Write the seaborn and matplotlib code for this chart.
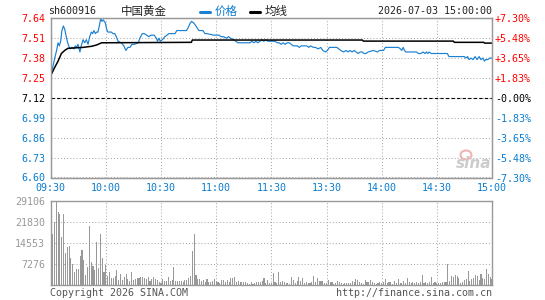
import seaborn as sns
import matplotlib
matplotlib.use('Agg')
import matplotlib.pyplot as plt
from matplotlib.lines import Line2D
from matplotlib.patches import Ellipse

# ---- data ----
code = 'sh600916'
name = '中国黄金'
stamp = '2026-07-03 15:00:00'
prev_close = 7.12

price_ticks = [6.60, 6.73, 6.86, 6.99, 7.12, 7.25, 7.38, 7.51, 7.64]
pct_labels = ['-7.30%', '-5.48%', '-3.65%', '-1.83%', '-0.00%',
              '+1.83%', '+3.65%', '+5.48%', '+7.30%']
time_pos = [0, 30, 60, 90, 120, 150, 180, 210, 240]
time_labels = ['09:30', '10:00', '10:30', '11:00', '11:30',
               '13:30', '14:00', '14:30', '15:00']
vol_ticks = [7276, 14553, 21830, 29106]

# minutes since 09:30 (11:30 and 13:00 share minute 120)
am_t = [0, 1.1, 2.2, 3.2, 4.0, 4.7, 5.4, 6.1, 6.9, 7.6, 8.3, 9.0, 9.8, 10.5,
        11.6, 12.7, 13.4, 14.1, 14.8, 15.9, 16.6, 17.6, 18.5, 19.4, 20.3,
        21.2, 22.1, 22.8, 23.5, 24.3, 25.0, 25.7, 26.6, 27.2, 27.9, 28.6,
        29.7, 30.4, 31.1, 33.0, 33.9, 34.8, 35.7, 36.6, 38.4, 39.8, 40.9,
        42.0, 43.1, 44.2, 45.6, 47.6, 48.5, 49.8, 50.9, 52.2, 53.4, 54.5,
        56.3, 57.4, 58.1, 58.9, 59.6, 60.7, 62.1, 63.2, 64.3, 65.4, 66.5,
        67.6, 68.6, 73.9, 74.8, 75.9, 76.6, 77.7, 78.4, 79.5, 80.6, 82.8,
        83.9, 85.0, 88.6, 91.5, 92.6, 94.0, 95.6, 96.7, 97.8, 99.6, 100.7,
        101.8, 108.5, 109.4, 110.5, 111.6, 112.7, 113.8, 114.8, 115.9,
        117.0, 118.1, 119.4, 120.0]
am_price = [7.27, 7.32, 7.38, 7.43, 7.48, 7.46, 7.49, 7.56, 7.59, 7.57, 7.53,
            7.49, 7.46, 7.44, 7.45, 7.44, 7.46, 7.45, 7.47, 7.42, 7.46, 7.50,
            7.48, 7.50, 7.47, 7.52, 7.55, 7.54, 7.56, 7.54, 7.55, 7.55, 7.60,
            7.64, 7.62, 7.63, 7.61, 7.57, 7.55, 7.55, 7.54, 7.54, 7.52, 7.49,
            7.48, 7.46, 7.43, 7.45, 7.45, 7.47, 7.47, 7.48, 7.51, 7.54, 7.54,
            7.53, 7.52, 7.53, 7.53, 7.51, 7.49, 7.51, 7.49, 7.50, 7.52, 7.53,
            7.54, 7.54, 7.54, 7.54, 7.56, 7.56, 7.58, 7.61, 7.62, 7.61, 7.60,
            7.58, 7.56, 7.56, 7.54, 7.54, 7.53, 7.53, 7.52, 7.52, 7.51, 7.52,
            7.51, 7.50, 7.49, 7.48, 7.48, 7.49, 7.48, 7.49, 7.48, 7.49, 7.50,
            7.49, 7.50, 7.49, 7.49, 7.49]

pm_t = [122.1, 123.2, 124.3, 125.3, 126.4, 127.5, 128.6, 129.7, 130.8, 131.9,
        134.1, 135.2, 136.3, 139.2, 140.4, 141.3, 142.9, 144.0, 145.5, 146.9,
        148.0, 149.4, 150.5, 151.6, 152.7, 154.2, 155.6, 156.7, 157.8, 159.2,
        160.7, 161.8, 162.8, 163.9, 165.0, 166.1, 167.2, 168.3, 169.4, 170.4,
        171.5, 172.6, 175.5, 177.7, 178.8, 179.9, 181.0, 182.0, 185.7, 187.7,
        189.1, 190.2, 190.9, 191.7, 192.4, 193.1, 195.6, 196.7, 197.8, 198.9,
        200.0, 201.4, 202.5, 203.6, 204.3, 205.1, 205.8, 206.9, 208.0, 209.1,
        210.1, 211.2, 214.5, 215.7, 216.6, 225.0, 225.7, 226.8, 227.5, 228.6,
        229.7, 230.8, 231.9, 233.0, 234.0, 235.1, 235.9, 236.6, 237.7, 238.7,
        240.0]
pm_price = [7.49, 7.48, 7.48, 7.47, 7.48, 7.47, 7.48, 7.48, 7.47, 7.46,
            7.46, 7.45, 7.46, 7.46, 7.45, 7.46, 7.45, 7.45, 7.44, 7.45,
            7.43, 7.42, 7.43, 7.45, 7.45, 7.45, 7.45, 7.44, 7.43, 7.42,
            7.43, 7.42, 7.43, 7.42, 7.43, 7.42, 7.41, 7.42, 7.42, 7.41,
            7.41, 7.42, 7.43, 7.42, 7.43, 7.43, 7.43, 7.45, 7.45, 7.45,
            7.45, 7.44, 7.43, 7.45, 7.43, 7.42, 7.42, 7.42, 7.42, 7.42,
            7.41, 7.41, 7.42, 7.41, 7.42, 7.41, 7.42, 7.41, 7.41, 7.41,
            7.41, 7.41, 7.41, 7.41, 7.39, 7.39, 7.38, 7.39, 7.37, 7.38,
            7.37, 7.39, 7.37, 7.39, 7.37, 7.38, 7.36, 7.37, 7.37, 7.38,
            7.38]

avg_t = [0, 2.2, 4.0, 5.8, 7.6, 9.4, 17.6, 22.1, 24.8, 27.7, 76.5, 77.0,
         169.5, 170.0, 219.0, 219.5, 235.5, 236.0, 240.0]
avg_price = [7.265, 7.32, 7.36, 7.41, 7.43, 7.444, 7.45, 7.457, 7.465, 7.48,
             7.483, 7.498, 7.498, 7.491, 7.491, 7.483, 7.483, 7.478, 7.478]

volume = [8520, 17780, 21930, 29106, 25400, 24800, 16740, 24800, 11190, 13270,
          13620, 9460, 7380, 4610, 5650, 5650, 10150, 12230, 8770, 3570,
          6340, 20550, 8070, 6690, 5300, 15000, 5990, 17780, 9460, 4610,
          7030, 3220, 4610, 2530, 2530, 3220, 5300, 1840, 3920, 1840,
          2880, 3920, 2180, 1490, 4610, 1840, 2180, 2530, 2530, 2880,
          2880, 2530, 2180, 2880, 1490, 2180, 2880, 2180, 1840, 1140,
          800, 2180, 1490, 1490, 2880, 1490, 1840, 6340, 1490, 1490,
          1490, 1490, 1140, 1840, 1840, 2530, 3220, 11880, 17780, 3570, 2180,
          # 10:51 - 11:30
          2180, 1490, 1840, 1140, 2180, 1140, 1140, 1490, 2180, 1490,
          1140, 800, 1840, 1840, 1140, 1840, 1140, 2530, 2530, 2880,
          1140, 1490, 1140, 1140, 1140, 1140, 800, 450, 1140, 450,
          800, 1140, 1140, 1140, 1490, 2530, 800, 1840, 800, 800,
          # 13:01 - 13:39
          4260, 1140, 800, 4610, 1140, 1490, 1140, 800, 800, 450,
          2880, 1840, 800, 1490, 2880, 1490, 2530, 800, 1140, 800,
          800, 1140, 3220, 1140, 2530, 1490, 1490, 1490, 800, 800,
          1840, 1140, 1140, 450, 800, 1490, 1140, 800, 450,
          # 13:40 - 15:00
          800, 800, 800, 800, 1490, 1140, 2180, 1840, 1140, 800,
          450, 1840, 1140, 1140, 1840, 1140, 800, 450, 800, 1140,
          800, 1140, 2180, 800, 1140, 1140, 450, 1490, 800, 2180,
          800, 800, 1490, 800, 2530, 1140, 800, 1140, 800, 1140,
          800, 1140, 3570, 800, 1140, 800, 1140, 2880, 800, 1140,
          800, 800, 800, 1140, 1140, 1140, 7380, 1490, 3220, 2880,
          3570, 3220, 2530, 800, 1140, 1840, 2180, 4950, 1490, 2180,
          2530, 3570, 3220, 1840, 3920, 2530, 2180, 5650, 3920, 2900, 2300]
vol_t = list(range(len(volume)))

# ---- style ----
BLUE = '#1a80d2'
TXT_BLUE = '#0a7dcf'
RED = '#ff0000'
GRAY = '#999999'
GRID = '#aaaaaa'
W, H = 545, 300

sns.set_style('white')
plt.rcParams['font.family'] = ['DejaVu Sans Mono', 'Noto Sans CJK SC']
plt.rcParams['font.size'] = 7.2
cjk = ['Noto Sans CJK SC', 'DejaVu Sans']


def fx(x):
    return x / W


def fy(y):
    return 1 - y / H


def style_box(a):
    for s in a.spines.values():
        s.set_color(GRAY)
        s.set_linewidth(1.0)
    a.grid(True, color=GRID, lw=0.75, ls=(0, (1, 2)))


fig = plt.figure(figsize=(W / 100, H / 100), dpi=100)

# price panel
ax = fig.add_axes([fx(50.7), fy(177.5), 441.3 / W, 159.2 / H])
sns.lineplot(x=am_t + pm_t, y=am_price + pm_price, ax=ax, color=BLUE,
             lw=0.85, estimator=None, sort=False)
sns.lineplot(x=avg_t, y=avg_price, ax=ax, color='black', lw=1.1,
             estimator=None, sort=False)
ax.axhline(prev_close, color='black', lw=0.8, ls=(0, (3, 2)))
ax.set_xlim(0, 240)
ax.set_ylim(price_ticks[0], price_ticks[-1])
ax.set_xticks(time_pos)
ax.set_xticklabels(time_labels)
ax.set_yticks(price_ticks)
ax.set_yticklabels([f'{p:.2f}' for p in price_ticks])
ax.set_xlabel('')
ax.set_ylabel('')
ax.tick_params(axis='x', length=0, pad=4, labelcolor=TXT_BLUE)
ax.tick_params(axis='y', length=0, pad=4)
for lab, p in zip(ax.get_yticklabels(), price_ticks):
    lab.set_color(RED if p > prev_close else ('black' if p == prev_close else TXT_BLUE))
style_box(ax)

ax2 = ax.twinx()
ax2.set_ylim(price_ticks[0], price_ticks[-1])
ax2.set_yticks(price_ticks)
ax2.set_yticklabels(pct_labels)
ax2.tick_params(axis='y', length=0, pad=2)
for lab, p in zip(ax2.get_yticklabels(), price_ticks):
    lab.set_color(RED if p > prev_close else ('black' if p == prev_close else TXT_BLUE))
for s in ax2.spines.values():
    s.set_color(GRAY)

# volume panel
axv = fig.add_axes([fx(50.7), fy(285.3), 441.3 / W, 84 / H])
sns.barplot(x=vol_t, y=volume, native_scale=True, width=0.6, color=GRAY,
            saturation=1, linewidth=0, errorbar=None, ax=axv)
axv.set_xlim(0, 240)
axv.set_ylim(0, vol_ticks[-1])
axv.set_xticks(time_pos)
axv.set_xticklabels([])
axv.set_yticks(vol_ticks)
axv.set_yticklabels([str(v) for v in vol_ticks])
axv.set_xlabel('')
axv.set_ylabel('')
axv.tick_params(length=0, pad=4, labelcolor=GRAY)
style_box(axv)

# header
fig.text(fx(48.5), fy(11.5), code, ha='left', va='center', color='#222222')
fig.text(fx(120.5), fy(11.5), name, ha='left', va='center', fontsize=8.3,
         family=cjk, color='#222222')
fig.add_artist(Line2D([fx(200), fx(210)], [fy(11.5), fy(11.5)], color=BLUE, lw=2.2))
fig.text(fx(215), fy(11.5), '价格', ha='left', va='center', fontsize=8.3,
         family=cjk, color=TXT_BLUE)
fig.add_artist(Line2D([fx(250), fx(260)], [fy(11.5), fy(11.5)], color='black', lw=2.2))
fig.text(fx(265), fy(11.5), '均线', ha='left', va='center', fontsize=8.3,
         family=cjk, color='#222222')
fig.text(fx(491.5), fy(11.5), stamp, ha='right', va='center', color='#222222')

# sina watermark
fig.add_artist(Ellipse((fx(466), fy(155)), 11 / W, 9 / H, transform=fig.transFigure,
                       fill=False, ec='#f0b4b4', lw=1.5))
fig.text(fx(474), fy(164), 'sina', ha='center', va='center', fontsize=11,
         family='DejaVu Sans', style='italic', weight='bold', color='#cccccc')

# footer
fig.text(fx(50), fy(293), 'Copyright 2026 SINA.COM', ha='left', va='center', color='#555555')
fig.text(fx(492), fy(293), 'http://finance.sina.com.cn', ha='right', va='center',
         color='#555555')

fig.savefig('out.png', dpi=100)
